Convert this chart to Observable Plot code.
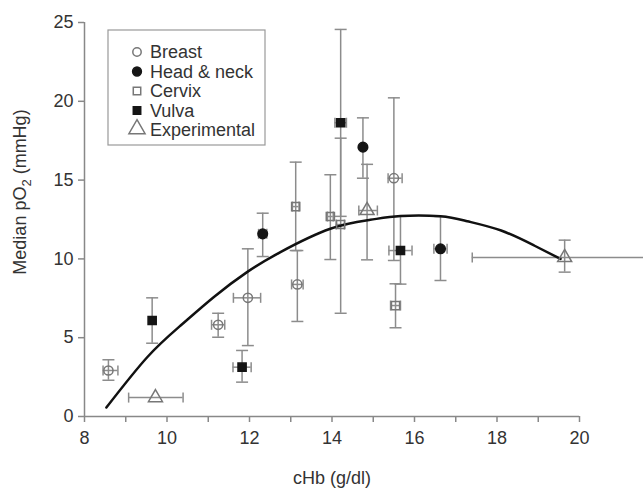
<!DOCTYPE html>
<html><head><meta charset="utf-8">
<script src="https://cdn.jsdelivr.net/npm/d3@7"></script>
<script src="https://cdn.jsdelivr.net/npm/@observablehq/plot@0.6"></script>
<style>body{margin:0;background:#fff}</style>
</head><body><div id="chart"></div>
<script>
// Legend categories
const categories = ["Breast", "Head & neck", "Cervix", "Vulva", "Experimental"];

// One entry per plotted point
const pointGroup = ["Breast","Breast","Breast","Breast","Breast",
  "Head & neck","Head & neck","Head & neck",
  "Cervix","Cervix","Cervix","Cervix",
  "Vulva","Vulva","Vulva","Vulva",
  "Experimental","Experimental","Experimental"];
const chb   = [8.58, 11.24, 11.96, 13.16, 15.50,  12.32, 14.75, 16.63,  13.12, 13.96, 14.21, 15.54,  9.64, 11.82, 14.21, 15.66,  9.72, 14.85, 19.64];
const po2   = [2.92, 5.82, 7.53, 8.38, 15.12,  11.59, 17.09, 10.64,  13.32, 12.69, 12.18, 7.04,  6.09, 3.13, 18.64, 10.53,  1.20, 13.07, 10.09];
const chbLo = [8.45, 11.08, 11.61, 13.02, 15.36,  12.22, null, 16.47,  13.04, 13.89, 14.10, 15.42,  null, 11.60, 14.07, 15.38,  9.07, 14.65, 17.40];
const chbHi = [8.81, 11.40, 12.27, 13.30, 15.70,  12.42, null, 16.79,  13.20, 14.03, 14.30, 15.66,  null, 12.04, 14.35, 15.94,  10.39, 15.10, 21.90];
const po2Lo = [2.30, 5.03, 4.50, 6.03, 9.90,  10.15, 15.12, 8.63,  10.53, 9.96, 6.55, 5.63,  4.65, 2.18, 12.70, 8.40,  null, 9.94, 9.16];
const po2Hi = [3.60, 6.55, 10.64, 10.53, 20.22,  12.90, 18.95, 12.69,  16.14, 15.34, 17.66, 8.42,  7.53, 4.19, 24.56, 12.70,  null, 16.00, 11.19];

// Fitted curve
const curveX = [8.53, 9.52, 10.33, 11.13, 11.94, 12.75, 13.96, 14.93, 15.66, 16.63, 17.28, 18.10, 18.90, 19.54];
const curveY = [0.57, 3.76, 5.77, 7.57, 9.16, 10.43, 11.91, 12.48, 12.72, 12.70, 12.39, 11.80, 10.85, 10.00];

// Axis ticks
const xTicks = d3.range(8, 21, 1);
const xTickLabels = [8, 10, 12, 14, 16, 18, 20];
const yTicks = [0, 5, 10, 15, 20, 25];

const data = chb.map((x, i) => ({group: pointGroup[i], x, y: po2[i], xLo: chbLo[i], xHi: chbHi[i], yLo: po2Lo[i], yHi: po2Hi[i]}));
const curve = curveX.map((x, i) => ({x, y: curveY[i]}));

const hline = {draw(ctx, size) { const r = Math.sqrt(size / Math.PI); ctx.moveTo(-r, 0); ctx.lineTo(r, 0); }};
const vline = {draw(ctx, size) { const r = Math.sqrt(size / Math.PI); ctx.moveTo(0, -r); ctx.lineTo(0, r); }};

const vBars = data.filter(d => d.yLo != null);
const hBars = data.filter(d => d.xLo != null);
const vCaps = vBars.flatMap(d => [{x: d.x, y: d.yLo}, {x: d.x, y: d.yHi}]);
const hCaps = hBars.flatMap(d => [{x: d.xLo, y: d.y}, {x: d.xHi, y: d.y}]);

const style = {
  "Breast": {symbol: "circle", fill: "none", stroke: "#777", r: 4.6},
  "Head & neck": {symbol: "circle", fill: "#151515", stroke: "#151515", r: 4.8},
  "Cervix": {symbol: "square", fill: "none", stroke: "#777", r: 4.6},
  "Vulva": {symbol: "square", fill: "#151515", stroke: "#151515", r: 4.6},
  "Experimental": {symbol: "triangle", fill: "none", stroke: "#777", r: 5.2}
};
const ebColor = "#8c8c8c";
const fontFamily = "'Liberation Sans', Arial, sans-serif";

const plot = Plot.plot({
  width: 643, height: 491,
  marginLeft: 84, marginRight: 64, marginTop: 22, marginBottom: 75,
  x: {domain: [8, 20]},
  y: {domain: [0, 25]},
  style: {fontFamily, fontSize: "18px", color: "#333", background: "#fff"},
  marks: [
    Plot.ruleY([0], {stroke: "#888", strokeWidth: 1.5}),
    Plot.ruleX([8], {stroke: "#888", strokeWidth: 1.5}),
    Plot.axisX({ticks: xTicks, tickSize: 6, tickPadding: 9, stroke: "#888", strokeWidth: 1.5,
      tickFormat: d => xTickLabels.includes(d) ? String(d) : "", label: null}),
    Plot.axisY({ticks: yTicks, tickSize: 6, tickPadding: 5, stroke: "#888", strokeWidth: 1.5, label: null}),
    Plot.ruleX(vBars, {x: "x", y1: "yLo", y2: "yHi", stroke: ebColor, strokeWidth: 1.5}),
    Plot.ruleY(hBars, {y: "y", x1: "xLo", x2: "xHi", stroke: ebColor, strokeWidth: 1.5}),
    Plot.dot(vCaps, {x: "x", y: "y", symbol: hline, r: 6, stroke: ebColor, strokeWidth: 1.5}),
    Plot.dot(hCaps, {x: "x", y: "y", symbol: vline, r: 5, stroke: ebColor, strokeWidth: 1.5}),
    Plot.line(curve, {x: "x", y: "y", curve: "natural", stroke: "#111", strokeWidth: 2.5}),
    ...categories.map(c => Plot.dot(data.filter(d => d.group === c), {
      x: "x", y: "y", symbol: style[c].symbol, r: style[c].r, fill: style[c].fill, stroke: style[c].stroke, strokeWidth: 1.5
    }))
  ]
});
document.getElementById("chart").appendChild(plot);

const svg = d3.select(plot);
// Axis titles
svg.append("text").attr("x", 332).attr("y", 484).attr("text-anchor", "middle")
  .attr("fill", "#333").attr("font-size", 18).text("cHb (g/dl)");
const yl = svg.append("text").attr("transform", "translate(26,192) rotate(-90)").attr("text-anchor", "middle")
  .attr("fill", "#333").attr("font-size", 18);
yl.append("tspan").text("Median pO");
yl.append("tspan").attr("font-size", 13).attr("dy", 5).text("2");
yl.append("tspan").attr("dy", -5).text(" (mmHg)");

// Legend
const lg = svg.append("g");
lg.append("rect").attr("x", 108).attr("y", 30).attr("width", 157).attr("height", 115)
  .attr("fill", "#fff").attr("stroke", "#999").attr("stroke-width", 1.2);
const symMap = {circle: d3.symbolCircle, square: d3.symbolSquare, triangle: d3.symbolTriangle};
categories.forEach((c, i) => {
  const cy = 52 + i * 19.5;
  const s = style[c];
  const r = c === "Experimental" ? 6 : s.r - 0.4;
  lg.append("path").attr("d", d3.symbol(symMap[s.symbol], Math.PI * r * r)())
    .attr("transform", `translate(137,${cy + (c === "Experimental" ? -1 : 0)})`)
    .attr("fill", s.fill).attr("stroke", s.stroke).attr("stroke-width", 1.5);
  lg.append("text").attr("x", 150).attr("y", cy + 6).attr("text-anchor", "start")
    .attr("fill", "#333").attr("font-size", 18).text(c);
});
</script>
</body></html>
